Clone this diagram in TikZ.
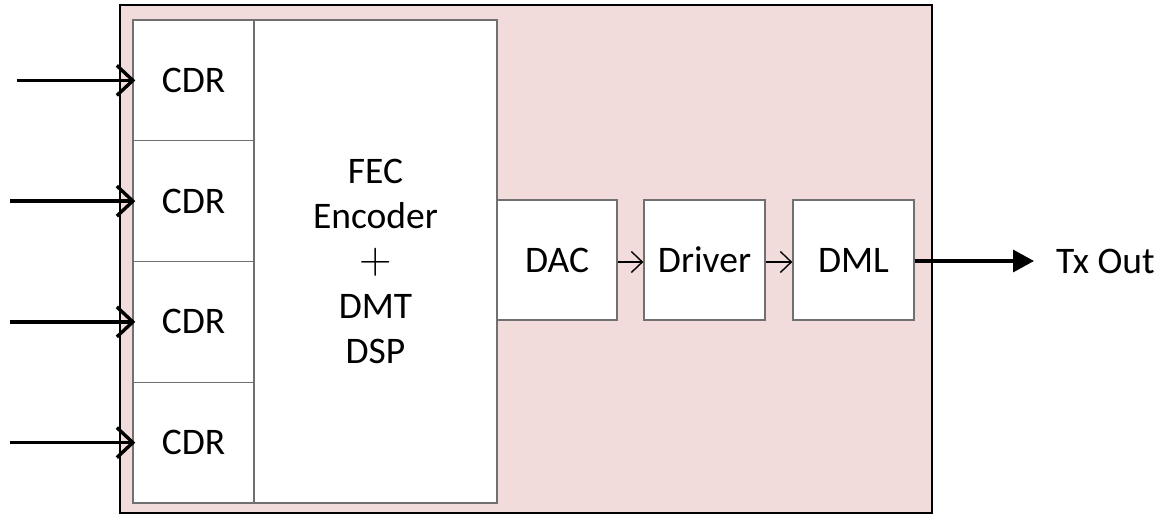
\documentclass[tikz,border=0pt]{standalone}
\usepackage{fontspec}
\setmainfont{Carlito}
\newfontfamily\lmplusfont{Latin Modern Roman}
\usetikzlibrary{arrows.meta}
\definecolor{bgpink}{HTML}{F2DCDB}
\definecolor{boxgray}{HTML}{707070}
\begin{document}
\begin{tikzpicture}[x=1pt,y=-1pt,
  blk/.style={draw=boxgray,line width=1.3pt,fill=white,rectangle,inner sep=0pt,
    font=\fontsize{37.5}{45}\selectfont,align=center},
  thickarrow/.style={line width=3.6pt,-{Straight Barb[length=16pt,width=30pt,line width=3.4pt]}},
  thinarrow/.style={line width=1.4pt,-{Straight Barb[length=11pt,width=21pt,line width=1.4pt]}},
  outarrow/.style={line width=3.4pt,-{Triangle[length=21pt,width=22pt]}}]
\useasboundingbox (0,0) rectangle (1162,514);
\draw[fill=bgpink,draw=black,line width=1.8pt] (120,5) rectangle (932,513);
\node[blk,minimum width=121pt,minimum height=120.75pt] (cdr1) at (193.5,80.4) {CDR};
\node[blk,minimum width=121pt,minimum height=120.75pt] (cdr2) at (193.5,201.1) {CDR};
\node[blk,minimum width=121pt,minimum height=120.75pt] (cdr3) at (193.5,321.9) {CDR};
\node[blk,minimum width=121pt,minimum height=120.75pt] (cdr4) at (193.5,442.6) {CDR};
\node[blk,minimum width=243pt,minimum height=483pt] (fec) at (375.5,261.5)
  {FEC\\Encoder\\{\lmplusfont\fontsize{45}{45}\selectfont +}\\DMT\\DSP};
\node[blk,minimum width=120pt,minimum height=120pt] (dac) at (557,260) {DAC};
\node[blk,minimum width=121pt,minimum height=120pt] (drv) at (704.5,260) {Driver};
\node[blk,minimum width=121pt,minimum height=120pt] (dml) at (853.5,260) {DML};
\node[anchor=west,inner sep=0pt,font=\fontsize{37.5}{45}\selectfont] (tx) at (1056,261) {Tx Out};
\coordinate (in1) at (17,80.4);
\coordinate (in2) at (10,201.1);
\coordinate (in3) at (10,321.9);
\coordinate (in4) at (10,442.6);
\draw[thickarrow] (in1) -- ([xshift=3pt]cdr1.west);
\draw[thickarrow] (in2) -- ([xshift=3pt]cdr2.west);
\draw[thickarrow] (in3) -- ([xshift=3pt]cdr3.west);
\draw[thickarrow] (in4) -- ([xshift=3pt]cdr4.west);
\draw[thinarrow] (dac.east |- 0,262) -- (drv.west |- 0,262);
\draw[thinarrow] (drv.east |- 0,262) -- (dml.west |- 0,262);
\draw[outarrow,shorten >=22pt] (dml.east |- 0,261) -- (tx.west);
\end{tikzpicture}
\end{document}
